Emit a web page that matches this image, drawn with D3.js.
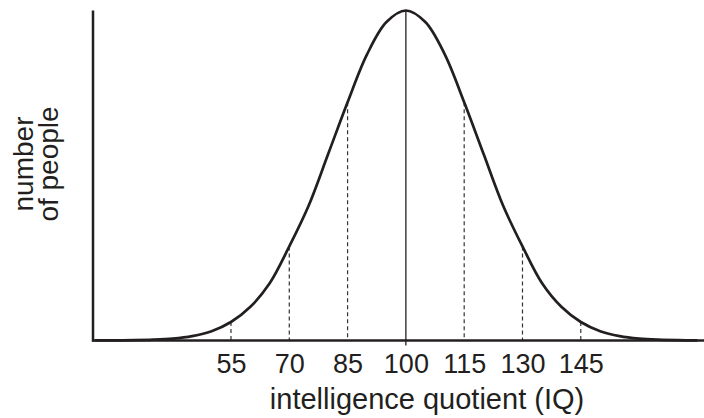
<!DOCTYPE html>
<html>
<head>
<meta charset="utf-8">
<script src="https://cdn.jsdelivr.net/npm/d3@7/dist/d3.min.js"></script>
<style>
  html, body { margin: 0; padding: 0; background: #fff; }
  svg { display: block; }
  text { font-family: "Liberation Sans", Arial, Helvetica, sans-serif; fill: #231f20; }
</style>
</head>
<body>
<svg id="chart" width="704" height="418"></svg>
<script>
// IQ sample points and relative number of people (peak = 1)
const iq = [20, 25, 30, 35, 40, 45, 50, 55, 60, 65, 70, 75, 80, 85, 90, 95, 100,
            105, 110, 115, 120, 125, 130, 135, 140, 145, 150, 155, 160, 165, 170, 175];
const people = [0.0001, 0.0003, 0.0009, 0.0024, 0.0058, 0.0133, 0.0281, 0.056, 0.102, 0.174, 0.285, 0.409, 0.565, 0.722, 0.867, 0.965, 1.0,
                0.965, 0.867, 0.722, 0.565, 0.409, 0.285, 0.174, 0.102, 0.056, 0.0281, 0.0133, 0.0058, 0.0024, 0.0009, 0.0003];
const tickLabels = [55, 70, 85, 100, 115, 130, 145];
const dashedAt = [55, 70, 85, 115, 130, 145];
const meanIQ = 100;
const xTitle = "intelligence quotient (IQ)";
const yTitleLines = ["number", "of people"];

const data = iq.map((v, i) => ({ iq: v, n: people[i] }));
const valueAt = q => data.find(d => d.iq === q).n;

const svg = d3.select("#chart");
const ink = "#231f20";

const x = d3.scaleLinear().domain([19.5, 176.7]).range([93, 704]);
const y = d3.scaleLinear().domain([0, 1]).range([340.5, 10.5]);

// dashed guide lines
svg.append("g").selectAll("line").data(dashedAt).join("line")
  .attr("x1", d => x(d)).attr("x2", d => x(d))
  .attr("y1", d => y(valueAt(d))).attr("y2", y(0))
  .attr("stroke", "#333").attr("stroke-width", 1.2)
  .attr("stroke-dasharray", "4,3");

// mean line
svg.append("line")
  .attr("x1", x(meanIQ)).attr("x2", x(meanIQ))
  .attr("y1", y(valueAt(meanIQ))).attr("y2", y(0) + 5)
  .attr("stroke", ink).attr("stroke-width", 1.3);

// curve
const line = d3.line().x(d => x(d.iq)).y(d => y(d.n)).curve(d3.curveCatmullRom.alpha(0.5));
svg.append("path").datum(data)
  .attr("d", line)
  .attr("fill", "none").attr("stroke", ink).attr("stroke-width", 2.7);

// x axis (baseline, labels only)
const xAxis = d3.axisBottom(x).tickValues(tickLabels).tickSize(0).tickPadding(13);
const gx = svg.append("g").attr("transform", `translate(0,${y(0)})`).call(xAxis);
gx.select(".domain").remove();
gx.selectAll("text").style("font-size", "27px").attr("fill", ink)
  .style("font-family", "'Liberation Sans', Arial, sans-serif");

svg.append("line").attr("x1", 92).attr("x2", 704).attr("y1", y(0)).attr("y2", y(0))
  .attr("stroke", ink).attr("stroke-width", 2.5);

// y axis line
const yAxis = d3.axisLeft(y).tickValues([]).tickSize(0);
const gy = svg.append("g").attr("transform", `translate(93,0)`).call(yAxis);
gy.select(".domain").attr("d", `M0,${y(1)}V${y(0) + 1.2}`)
  .attr("stroke", ink).attr("stroke-width", 2.5);

// titles
svg.append("text").attr("x", 427).attr("y", 409).attr("text-anchor", "middle")
  .style("font-size", "29px").text(xTitle);

const yt = svg.append("text").attr("transform", "translate(33,164) rotate(-90)")
  .attr("text-anchor", "middle").style("font-size", "28px");
yTitleLines.forEach((t, i) => {
  yt.append("tspan").attr("x", 0).attr("dy", i === 0 ? 0 : 25).text(t);
});
</script>
</body>
</html>
